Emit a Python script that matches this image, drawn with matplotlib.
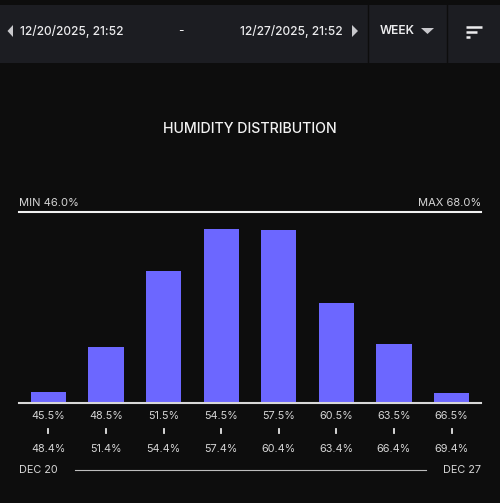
import matplotlib
matplotlib.use("Agg")
import matplotlib.pyplot as plt
from matplotlib.patches import Rectangle, Polygon
from matplotlib.transforms import blended_transform_factory

plt.rcParams['font.family'] = ['Inter', 'DejaVu Sans']

# data
bin_low = ["45.5%", "48.5%", "51.5%", "54.5%", "57.5%", "60.5%", "63.5%", "66.5%"]
bin_high = ["48.4%", "51.4%", "54.4%", "57.4%", "60.4%", "63.4%", "66.4%", "69.4%"]
counts = [10.3, 55.3, 132, 173.7, 173, 99.7, 58.7, 9.3]
y_top = 191  # value at the MAX line
start_label, end_label = "12/20/2025, 21:52", "12/27/2025, 21:52"
period = "WEEK"
min_label, max_label = "MIN 46.0%", "MAX 68.0%"
day_start, day_end = "DEC 20", "DEC 27"

BG = "#0d0d0d"
HEADER = "#1c1d22"
BAR = "#6c67ff"
TXT = "#d6d6d6"

W, H = 500, 503
fig = plt.figure(figsize=(W / 100, H / 100), dpi=100, facecolor=BG)

# overlay in pixel coords for the header / decorations
ov = fig.add_axes([0, 0, 1, 1])
ov.set_xlim(0, W)
ov.set_ylim(H, 0)
ov.axis("off")
ov.set_facecolor(BG)

ov.add_patch(Rectangle((0, 5), W, 58, color=HEADER, lw=0))
ov.plot([368, 368], [5, 63], color="#0d0d0d", lw=1)
ov.plot([447, 447], [5, 63], color="#0d0d0d", lw=1)
ov.add_patch(Polygon([[13, 25], [13, 37], [7.5, 31]], color="#c8c8cc", lw=0))
ov.text(20, 31, start_label, color="#ececee", fontsize=8.6, va="center", ha="left",
        fontweight="medium")
ov.text(181, 31, "-", color="#ececee", fontsize=8.6, va="center", ha="center")
ov.text(343, 31, end_label, color="#ececee", fontsize=8.6, va="center", ha="right",
        fontweight="medium")
ov.add_patch(Polygon([[352, 25], [352, 37], [358, 31]], color="#c8c8cc", lw=0))
ov.text(380, 31, period, color="#ececee", fontsize=8.6, va="center", ha="left",
        fontweight="semibold")
ov.add_patch(Polygon([[421, 28], [434, 28], [427.5, 34]], color="#c8c8cc", lw=0))
for yy, x2 in [(26.5, 482), (31.5, 477), (36.5, 470)]:
    ov.plot([466, x2], [yy, yy], color="#ececee", lw=1.8, solid_capstyle="butt")

ov.text(250, 129, "HUMIDITY DISTRIBUTION", color="#f2f2f2", fontsize=10.2,
        ha="center", va="center", fontweight="medium")

# bars
ax = fig.add_axes([19.3 / W, (H - 402.7) / H, 461.7 / W, 191 / H])
ax.set_facecolor("none")
x = list(range(len(counts)))
ax.bar(x, counts, width=0.613, color=BAR)
ax.set_xlim(-0.505, 7.511)
ax.set_ylim(0, y_top)
for s in ax.spines.values():
    s.set_visible(False)
ax.set_xticks([])
ax.set_yticks([])
ax.axhline(0, color="#d8d8d8", lw=1.5, clip_on=False)
ax.axhline(y_top, color="#f0f0f0", lw=1.5, clip_on=False)
ax.text(0, 1.045, min_label, transform=ax.transAxes, color=TXT, fontsize=8,
        ha="left", va="center")
ax.text(1, 1.045, max_label, transform=ax.transAxes, color=TXT, fontsize=8,
        ha="right", va="center")

tr = blended_transform_factory(ax.transData, ov.transData)
for i in x:
    ax.text(i, 415.7, bin_low[i], transform=tr, color=TXT, fontsize=7.8,
            ha="center", va="center")
    ax.plot([i, i], [428.5, 433], transform=tr, color="#e6e6e6", lw=1.3, clip_on=False)
    ax.text(i, 449.3, bin_high[i], transform=tr, color=TXT, fontsize=7.8,
            ha="center", va="center")

ov.text(19.3, 470.3, day_start, color=TXT, fontsize=7.8, ha="left", va="center")
ov.text(481, 470.3, day_end, color=TXT, fontsize=7.8, ha="right", va="center")
ov.plot([75, 425.7], [470.3, 470.3], color="#bdbdbd", lw=0.8)

fig.savefig("out.png", dpi=100, facecolor=BG)
